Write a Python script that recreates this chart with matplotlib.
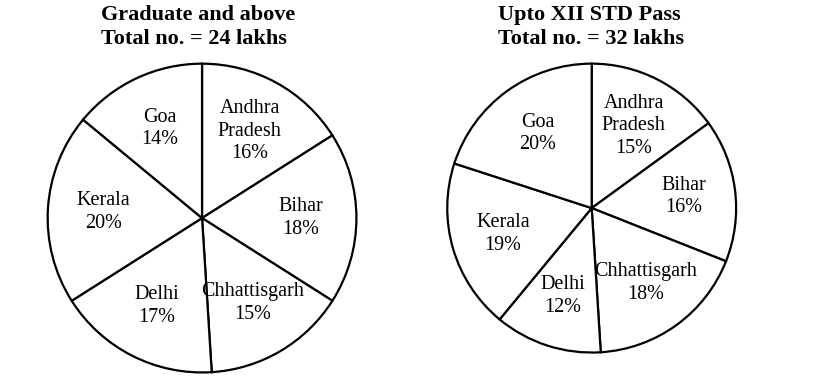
import matplotlib
matplotlib.use('Agg')
import matplotlib.pyplot as plt

states = ['Andhra\nPradesh', 'Bihar', 'Chhattisgarh', 'Delhi', 'Kerala', 'Goa']
graduate_pct = [16, 18, 15, 17, 20, 14]
xii_pct = [15, 16, 18, 12, 19, 20]
titles = ['Graduate and above\nTotal no. = 24 lakhs',
          'Upto XII STD Pass\nTotal no. = 32 lakhs']

plt.rcParams['font.family'] = ['Liberation Serif', 'DejaVu Serif']

fig = plt.figure(figsize=(8.15, 3.85), dpi=100)
fig.patch.set_facecolor('white')

# axes placed so the circles sit where they do in the original
ax1 = fig.add_axes([0.0564, 0.0286, 0.383, 0.810])
ax2 = fig.add_axes([0.547, 0.0805, 0.358, 0.758])


def draw_pie(ax, values):
    labels = [f'{s}\n{v}%' for s, v in zip(states, values)]
    wedges, texts = ax.pie(values, labels=labels, startangle=90, counterclock=False,
                           colors=['white'] * len(values), labeldistance=0.64,
                           wedgeprops=dict(edgecolor='black', linewidth=1.6))
    for t in texts:
        t.set_ha('center')
        t.set_va('center')
        t.set_fontsize(14.5)
        t.set_linespacing(1.25)
    ax.set_xlim(-1.01, 1.01)
    ax.set_ylim(-1.01, 1.01)
    ax.set_aspect('equal')


draw_pie(ax1, graduate_pct)
draw_pie(ax2, xii_pct)

fig.text(101 / 815, 1 - 5 / 385, titles[0], ha='left', va='top', fontsize=16,
         fontweight='bold', linespacing=1.25)
fig.text(498 / 815, 1 - 5 / 385, titles[1], ha='left', va='top', fontsize=16,
         fontweight='bold', linespacing=1.25)

plt.savefig('out.png', dpi=100, facecolor='white')
plt.close()
